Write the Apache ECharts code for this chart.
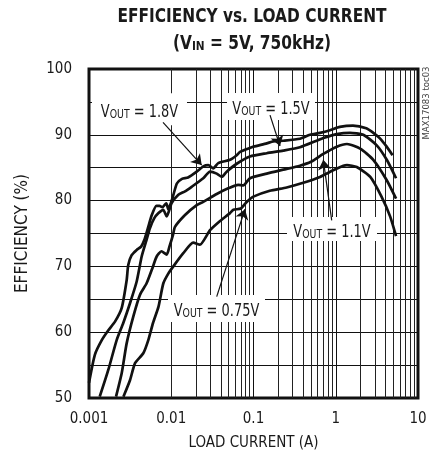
<!DOCTYPE html>
<html>
<head>
<meta charset="utf-8">
<script src="https://cdn.jsdelivr.net/npm/echarts@6/dist/echarts.min.js"></script>
<style>
html,body{margin:0;padding:0;background:#fff;}
#chart{width:437px;height:459px;}
</style>
</head>
<body>
<div id="chart"></div>
<script>
// ---- data ----
const cur18 = [0.001,0.00118,0.00143,0.00172,0.00207,0.0025,0.00287,0.0030,0.0033,0.0038,0.0043,0.0047,0.0052,0.0058,0.0066,0.0072,0.0078,0.0087,0.0092,0.0103,0.0117,0.0135,0.016,0.0204,0.0245,0.0282,0.0324,0.0373,0.0518,0.0625,0.0686,0.0906,0.1,0.145,0.174,0.23,0.367,0.486,0.644,0.85,1.12,1.62,2.35,2.86,3.42,4.16,4.9];
const eff18 = [52.3,56.6,58.8,60.3,61.6,63.7,67.9,70.2,71.7,72.5,73.0,74.0,75.8,77.8,79.2,79.2,79.0,79.6,78.7,80.3,82.6,83.3,83.5,84.4,85.2,85.4,84.9,85.7,86.2,86.9,87.4,88.0,88.2,88.7,89.0,89.1,89.4,90.0,90.3,90.7,91.2,91.4,91.0,90.3,89.5,88.2,86.9];

const cur15 = [0.00135,0.00172,0.00217,0.00261,0.00315,0.0038,0.00437,0.005,0.0055,0.0062,0.0070,0.0080,0.0088,0.0101,0.0122,0.0147,0.0177,0.0245,0.0296,0.0357,0.041,0.0472,0.0625,0.0906,0.145,0.23,0.367,0.586,0.706,1.03,1.49,2.16,3.15,4.17,5.41];
const eff15 = [50.2,54.3,58.8,61.4,64.4,67.7,71.5,74.0,75.8,77.3,78.1,78.6,77.6,79.6,80.9,81.4,82.1,83.4,84.4,84.1,83.6,84.4,85.6,86.7,87.2,87.6,88.1,89.1,89.5,90.1,90.3,90.0,88.4,86.2,83.4];

const cur11 = [0.00213,0.0025,0.00287,0.00346,0.00417,0.005,0.006,0.00665,0.0076,0.0088,0.0095,0.0105,0.0111,0.0147,0.0204,0.0245,0.0357,0.05,0.065,0.075,0.0906,0.145,0.23,0.367,0.5,0.706,1.03,1.37,1.98,2.86,4.17,5.41];
const eff11 = [50.2,53.8,58.3,62.4,65.7,67.4,70.0,71.5,72.3,71.8,73.0,74.8,76.0,77.8,79.3,79.8,81.0,81.9,82.4,82.3,83.4,84.1,84.7,85.3,85.9,87.1,88.2,88.6,87.9,86.2,83.1,80.3];

const cur075 = [0.00262,0.00315,0.00363,0.00457,0.00526,0.006,0.007,0.008,0.0092,0.0106,0.014,0.0185,0.0223,0.0296,0.0392,0.0518,0.057,0.07,0.0827,0.0996,0.158,0.253,0.403,0.644,0.93,1.24,1.37,1.8,2.63,3.6,4.58,5.41];
const eff075 = [50.2,52.7,55.3,56.8,58.8,61.4,63.9,67.4,68.9,70.0,72.0,73.6,73.3,75.5,76.9,78.1,78.6,78.8,79.8,80.6,81.5,82.0,82.7,83.6,84.6,85.3,85.4,85.1,83.6,80.6,77.6,74.6];

const xTickLabels = ['0.001','0.01','0.1','1','10'];
const xTickValues = [0.001,0.01,0.1,1,10];
const minorFactors = [2,3,4,5,6,7,8,9];
const minorDecades = [0.001,0.01,0.1,1];

// curve labels (data position of the label box centre)
const labelNames = ['1.8V','1.5V','1.1V','0.75V'];
const labelX = [0.00411,0.1633,0.9003,0.03549];
const labelY = [93.9,94.3,75.7,63.6];
const labelBox = [[95,32],[88,27],[90,24],[97,27]];
// arrows
const arrowFromX = [0.00794,0.1588,0.893,0.0357];
const arrowFromY = [91.9,93.0,77.0,65.4];
const arrowToX = [0.02345,0.210,0.706,0.0788];
const arrowToY = [85.4,88.3,86.2,78.7];

const F = '"DejaVu Sans Condensed","Liberation Sans",sans-serif';
const INK = '#1a1a1a';

function zip(a,b){return a.map((v,i)=>[v,b[i]]);}

const minorX = [];
minorDecades.forEach(d=>minorFactors.forEach(f=>minorX.push(+(d*f).toPrecision(3))));

const curveStyle = {color:'#111',width:2.7};
function curve(name,x,y){
  return {name,type:'line',data:zip(x,y),symbol:'none',smooth:0.2,lineStyle:curveStyle,silent:true,z:3};
}

const baseGraphic = [
  {type:'text',x:252,y:17,scaleX:0.9,z:100,style:{text:'EFFICIENCY vs. LOAD CURRENT',font:'bold 19px '+F,fill:INK,align:'center',verticalAlign:'middle'}},
  {type:'text',x:252,y:42,scaleX:0.9,z:100,style:{text:'{a|(V}{b|IN}{a| = 5V, 750kHz)}',align:'center',verticalAlign:'middle',
    rich:{a:{fontFamily:F,fontWeight:'bold',fontSize:19,fill:INK,lineHeight:23,verticalAlign:'bottom'},
          b:{fontFamily:F,fontWeight:'bold',fontSize:13,fill:INK,lineHeight:13,verticalAlign:'bottom'}}}},
  {type:'text',x:427,y:103,rotation:Math.PI/2,z:100,style:{text:'MAX17083 toc03',font:'9.5px '+F,fill:'#444',align:'center',verticalAlign:'middle'}}
];

const chart = echarts.init(document.getElementById('chart'),null,{renderer:'canvas'});
chart.setOption({
  animation:false,
  backgroundColor:'#fff',
  grid:{left:89,top:69,right:19,bottom:61,show:true,borderColor:'#111',borderWidth:3,backgroundColor:'transparent'},
  xAxis:{
    type:'log',logBase:10,min:0.001,max:10,
    axisLine:{show:false},axisTick:{show:false},
    splitLine:{show:true,lineStyle:{color:'#111',width:1}},
    axisLabel:{fontFamily:F,fontSize:15,color:INK,margin:14,
      formatter:v=>{const i=xTickValues.findIndex(t=>Math.abs(Math.log10(t)-Math.log10(v))<1e-6);return i>=0?xTickLabels[i]:'';}},
    name:'LOAD CURRENT (A)',nameLocation:'middle',nameGap:38,
    nameTextStyle:{fontFamily:F,fontSize:15,color:INK}
  },
  yAxis:{
    type:'value',min:50,max:100,interval:10,
    axisLine:{show:false},axisTick:{show:false},
    splitLine:{show:true,lineStyle:{color:'#111',width:1}},
    minorTick:{show:false,splitNumber:2},
    minorSplitLine:{show:true,lineStyle:{color:'#111',width:1}},
    axisLabel:{fontFamily:F,fontSize:15,color:INK,margin:17},
    name:'EFFICIENCY (%)',nameLocation:'middle',nameGap:58,
    nameTextStyle:{fontFamily:F,fontSize:17,color:INK}
  },
  graphic:baseGraphic,
  series:[
    curve('1.8V',cur18,eff18),
    curve('1.5V',cur15,eff15),
    curve('1.1V',cur11,eff11),
    curve('0.75V',cur075,eff075),
    {
      name:'grid-minor',type:'line',data:[],silent:true,z:1,
      markLine:{silent:true,z:1,symbol:['none','none'],label:{show:false},animation:false,
        lineStyle:{color:'#222',width:1,type:'solid'},
        data:minorX.map(v=>({xAxis:v}))}
    },
    {
      name:'notes',type:'line',data:[],silent:true,z:10,
      markPoint:{silent:true,z:10,animation:false,label:{show:false},
        data:labelNames.map((nm,i)=>({coord:[labelX[i],labelY[i]],symbol:'rect',symbolSize:labelBox[i],
          itemStyle:{color:'#fff'},label:{show:false}}))},
      markLine:{silent:true,z:11,animation:false,symbol:['none','arrow'],symbolSize:10,label:{show:false},
        lineStyle:{color:'#111',width:1.2,type:'solid'},
        data:labelNames.map((nm,i)=>[{coord:[arrowFromX[i],arrowFromY[i]]},{coord:[arrowToX[i],arrowToY[i]]}])}
    }
  ]
});

// curve label texts, placed at the data positions through the chart's own scales
const labelGraphic = labelNames.map((nm,i)=>{
  const p = chart.convertToPixel({xAxisIndex:0,yAxisIndex:0},[labelX[i],labelY[i]]);
  return {type:'text',x:p[0],y:p[1]+1,scaleX:0.8,z:120,style:{
    text:'{n|V}{s|OUT}{n| = '+nm+'}',align:'center',verticalAlign:'middle',
    rich:{n:{fontFamily:F,fontSize:18,fill:INK,lineHeight:22,verticalAlign:'bottom'},
          s:{fontFamily:F,fontSize:13,fill:INK,lineHeight:13,verticalAlign:'bottom'}}}};
});
chart.setOption({graphic:baseGraphic.concat(labelGraphic)});
</script>
</body>
</html>
